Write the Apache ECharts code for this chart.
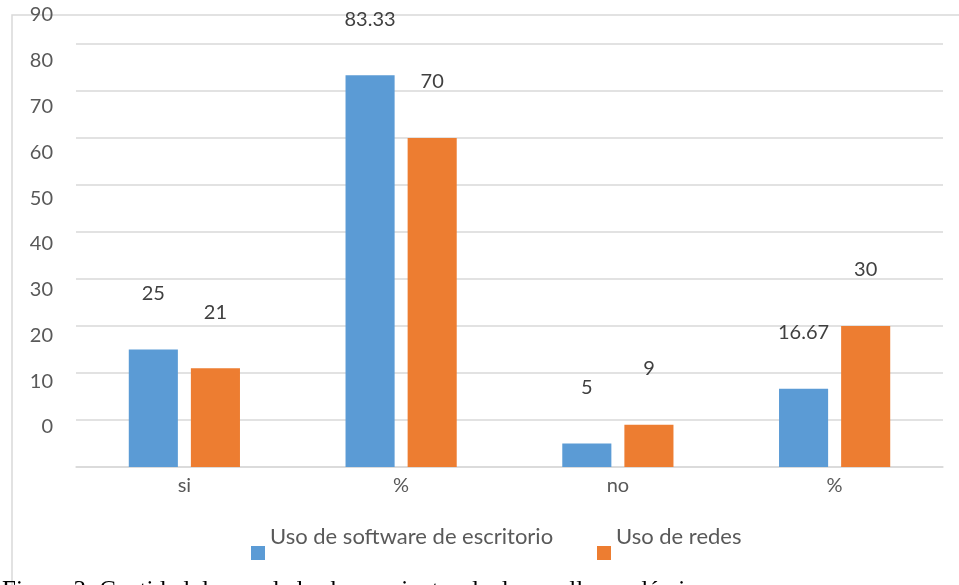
<!DOCTYPE html>
<html>
<head>
<meta charset="utf-8">
<script src="https://cdn.jsdelivr.net/npm/echarts@6/dist/echarts.min.js"></script>
<style>
  html, body { margin: 0; padding: 0; background: #fff; }
  #chart { width: 959px; height: 585px; }
</style>
</head>
<body>
<div id="chart"></div>
<script>
// datos del gráfico
const categories = ['si', '%', 'no', '%'];
const softwareValues = [25, 83.33, 5, 16.67];
const redesValues = [21, 70, 9, 30];
const seriesNames = ['Uso de software de escritorio', 'Uso de redes'];
const caption = 'Figura 3: Cantidad de uso de las herramientas de desarrollo académico';

const textGrey = '#595959';
const lineGrey = '#d9d9d9';
const chart = echarts.init(document.getElementById('chart'));

const barLabel = {
  show: true,
  position: 'top',
  offset: [0, -41],
  color: '#404040',
  fontSize: 20,
  fontFamily: 'Lato'
};

// la leyenda de Excel deja el texto por encima del cuadrito:
// una segunda línea vacía sube el nombre
const legendBase = {
  top: 521,
  itemWidth: 14,
  itemHeight: 14,
  icon: 'rect',
  formatter: name => '{a|' + name + '}\n{b| }',
  textStyle: {
    color: textGrey,
    rich: {
      a: { fontSize: 22, lineHeight: 22, color: textGrey, fontFamily: 'Lato' },
      b: { fontSize: 10, lineHeight: 32, height: 32 }
    }
  }
};

chart.setOption({
  animation: false,
  textStyle: { fontFamily: 'Lato' },
  legend: [
    Object.assign({ left: 246, data: [seriesNames[0]] }, legendBase),
    Object.assign({ left: 592, data: [seriesNames[1]] }, legendBase)
  ],
  grid: [
    { left: 76, right: 16, top: 44, bottom: 118 },
    // rejilla solo para las etiquetas del eje y (desplazadas como en el original)
    { left: 76, right: 16, top: 15, bottom: 158 }
  ],
  xAxis: [
    {
      type: 'category',
      data: categories,
      axisLine: { lineStyle: { color: lineGrey, width: 1.5 } },
      axisTick: { show: false },
      axisLabel: { color: textGrey, fontSize: 20, margin: 9 }
    },
    { type: 'category', gridIndex: 1, data: categories, show: false }
  ],
  yAxis: [
    {
      type: 'value',
      min: 0,
      max: 90,
      interval: 10,
      axisLabel: { show: false },
      axisLine: { show: false },
      splitLine: { lineStyle: { color: lineGrey, width: 1.5 } }
    },
    {
      type: 'value',
      gridIndex: 1,
      min: 0,
      max: 90,
      interval: 10,
      axisLine: { show: false },
      axisTick: { show: false },
      splitLine: { show: false },
      axisLabel: { color: textGrey, fontSize: 20, margin: 23 }
    }
  ],
  series: [
    {
      name: seriesNames[0],
      type: 'bar',
      data: softwareValues,
      itemStyle: { color: '#5B9BD5' },
      barGap: '26.5%',
      barCategoryGap: '48.7%',
      label: barLabel
    },
    {
      name: seriesNames[1],
      type: 'bar',
      data: redesValues,
      itemStyle: { color: '#ED7D31' },
      label: barLabel
    }
  ],
  graphic: [
    {
      type: 'polyline',
      shape: { points: [[12, 585], [12, 15], [959, 15]] },
      style: { stroke: lineGrey, lineWidth: 1.5, fill: null },
      silent: true
    },
    {
      type: 'text',
      left: 2,
      top: 579,
      style: {
        text: caption,
        fill: '#000',
        font: '25px "Liberation Serif"'
      },
      silent: true
    }
  ]
});
</script>
</body>
</html>
